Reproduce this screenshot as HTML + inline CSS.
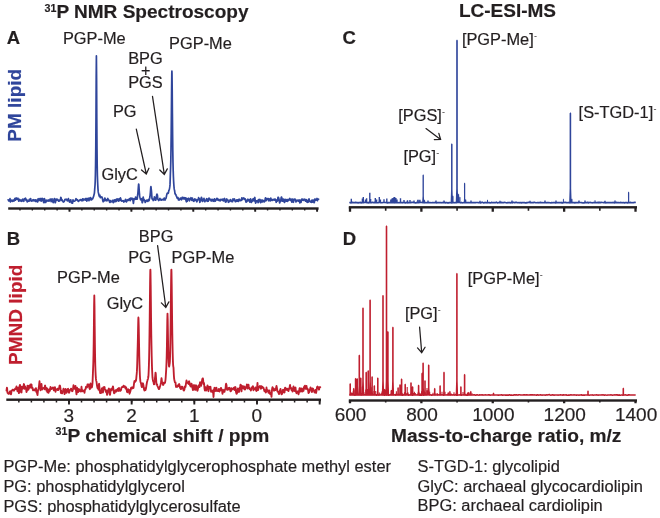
<!DOCTYPE html>
<html><head><meta charset="utf-8"><title>31P NMR and LC-ESI-MS</title>
<style>html,body{margin:0;padding:0;background:#fff}body{width:660px;height:518px;overflow:hidden}svg{display:block;will-change:transform}svg text{font-family:"Liberation Sans",sans-serif;stroke-width:.18px;stroke-linejoin:round}svg text{stroke:#231f20}svg text.b{stroke:#2f459b}svg text.r{stroke:#bf1e2e}</style></head><body>
<svg width="660" height="518" viewBox="0 0 660 518">
<rect width="660" height="518" fill="#fff"/>
<text x="44.5" y="18.2" font-size="19.05" font-weight="bold" fill="#231f20"><tspan font-size="10.7" dy="-6.6">31</tspan><tspan dy="6.6">P NMR Spectroscopy</tspan></text>
<text x="458.90" y="16.80" font-size="19" font-weight="bold" fill="#231f20" text-anchor="start">LC-ESI-MS</text>
<text x="6.70" y="43.90" font-size="18.5" font-weight="bold" fill="#231f20" text-anchor="start">A</text>
<text x="6.70" y="244.60" font-size="18.5" font-weight="bold" fill="#231f20" text-anchor="start">B</text>
<text x="342.60" y="43.90" font-size="18.5" font-weight="bold" fill="#231f20" text-anchor="start">C</text>
<text x="342.70" y="244.60" font-size="18.5" font-weight="bold" fill="#231f20" text-anchor="start">D</text>
<text transform="translate(21.4 141.7) rotate(-90)" class="b" font-size="19" font-weight="bold" fill="#2f459b">PM lipid</text>
<text transform="translate(21.6 364.9) rotate(-90)" class="r" font-size="19" font-weight="bold" fill="#bf1e2e">PMND lipid</text>
<path d="M8.20 199.78L8.40 200.05L8.60 200.62L8.80 200.88L9.00 200.65L9.20 200.57L9.40 200.80L9.60 200.75L9.80 199.56L10.00 198.65L10.20 200.31L10.40 201.98L10.60 201.32L10.80 200.67L11.00 200.84L11.20 201.11L11.40 200.82L11.60 200.39L11.80 200.17L12.00 200.03L12.20 200.27L12.40 200.76L12.60 201.10L12.80 201.29L13.00 201.17L13.20 200.60L13.40 200.21L13.60 200.22L13.80 200.30L14.00 200.67L14.20 200.91L14.40 200.02L14.60 199.13L14.80 198.78L15.00 198.42L15.20 199.26L15.40 200.23L15.60 199.97L15.80 199.40L16.00 198.72L16.20 197.99L16.40 198.04L16.60 198.61L16.80 199.00L17.00 199.22L17.20 199.19L17.40 198.77L17.60 198.43L17.80 198.31L18.00 198.40L18.20 199.32L18.40 200.19L18.60 200.71L18.80 201.23L19.00 200.60L19.20 199.96L19.40 199.64L19.60 199.34L19.80 199.79L20.00 200.43L20.20 200.77L20.40 200.97L20.60 200.75L20.80 200.24L21.00 200.22L21.20 200.67L21.40 201.04L21.60 201.30L21.80 201.27L22.00 200.54L22.20 199.88L22.40 199.53L22.60 199.27L22.80 199.89L23.00 200.51L23.20 200.60L23.40 200.69L23.60 200.98L23.80 201.29L24.00 200.34L24.20 199.07L24.40 198.81L24.60 198.99L24.80 198.99L25.00 198.86L25.20 198.61L25.40 198.21L25.60 198.39L25.80 199.43L26.00 200.24L26.20 200.51L26.40 200.63L26.60 200.09L26.80 199.71L27.00 200.81L27.20 201.91L27.40 201.72L27.60 201.54L27.80 201.38L28.00 201.21L28.20 201.10L28.40 201.00L28.60 201.07L28.80 201.22L29.00 200.60L29.20 199.46L29.40 199.37L29.60 200.34L29.80 200.90L30.00 200.87L30.20 200.48L30.40 199.27L30.60 198.51L30.80 199.52L31.00 200.42L31.20 200.31L31.40 200.19L31.60 200.66L31.80 201.13L32.00 200.65L32.20 200.05L32.40 200.08L32.60 200.27L32.80 200.43L33.00 200.59L33.20 200.31L33.40 199.72L33.60 199.76L33.80 200.45L34.00 200.75L34.20 200.47L34.40 200.34L34.60 200.53L34.80 200.60L35.00 200.15L35.20 199.83L35.40 200.62L35.60 201.42L35.80 201.18L36.00 200.94L36.20 200.51L36.40 200.05L36.60 200.31L36.80 200.74L37.00 201.18L37.20 201.61L37.40 201.84L37.60 201.92L37.80 201.09L38.00 199.34L38.20 198.74L38.40 199.86L38.60 200.61L38.80 200.48L39.00 200.29L39.20 199.85L39.40 199.41L39.60 198.98L39.80 198.55L40.00 199.59L40.20 200.62L40.40 199.72L40.60 198.61L40.80 199.15L41.00 200.12L41.20 200.68L41.40 201.07L41.60 200.33L41.80 198.84L42.00 198.35L42.20 198.85L42.40 199.02L42.60 198.69L42.80 198.74L43.00 199.69L43.20 200.64L43.40 201.56L43.60 202.41L43.80 202.56L44.00 202.71L44.20 200.68L44.40 198.65L44.60 198.94L44.80 199.49L45.00 200.34L45.20 201.27L45.40 201.94L45.60 202.49L45.80 202.32L46.00 201.67L46.20 201.03L46.40 200.38L46.60 200.21L46.80 200.75L47.00 201.10L47.20 201.02L47.40 200.86L47.60 200.66L47.80 200.46L48.00 200.19L48.20 199.93L48.40 200.50L48.60 201.08L48.80 201.12L49.00 201.10L49.20 200.87L49.40 200.60L49.60 200.37L49.80 200.16L50.00 199.72L50.20 199.13L50.40 199.07L50.60 199.55L50.80 200.20L51.00 201.11L51.20 201.50L51.40 200.70L51.60 199.93L51.80 199.28L52.00 198.84L52.20 200.26L52.40 201.69L52.60 201.51L52.80 201.33L53.00 201.93L53.20 202.60L53.40 201.83L53.60 200.70L53.80 199.98L54.00 199.43L54.20 198.95L54.40 198.54L54.60 199.15L54.80 200.77L55.00 202.01L55.20 202.69L55.40 202.61L55.60 200.76L55.80 199.27L56.00 199.21L56.20 199.23L56.40 199.86L56.60 200.49L56.80 199.80L57.00 199.11L57.20 199.23L57.40 199.45L57.60 199.52L57.80 199.56L58.00 199.83L58.20 200.20L58.40 200.64L58.60 201.13L58.80 201.13L59.00 200.64L59.20 200.49L59.40 200.83L59.60 200.88L59.80 200.23L60.00 199.74L60.20 199.90L60.40 199.91L60.60 198.59L60.80 197.28L61.00 197.66L61.20 198.04L61.40 199.22L61.60 200.49L61.80 200.32L62.00 199.79L62.20 200.04L62.40 200.64L62.60 200.96L62.80 201.10L63.00 201.38L63.20 201.82L63.40 201.99L63.60 201.79L63.80 201.66L64.00 201.68L64.20 201.57L64.40 200.91L64.60 200.28L64.80 199.88L65.00 199.47L65.20 199.45L65.40 199.43L65.60 199.53L65.80 199.64L66.00 199.43L66.20 199.14L66.40 199.30L66.60 199.64L66.80 199.99L67.00 200.34L67.20 200.62L67.40 200.83L67.60 200.79L67.80 200.38L68.00 199.86L68.20 199.05L68.40 198.58L68.60 199.54L68.80 200.44L69.00 200.79L69.20 201.15L69.40 201.62L69.60 202.08L69.80 201.83L70.00 201.50L70.20 200.82L70.40 200.06L70.60 199.87L70.80 199.92L71.00 200.82L71.20 202.29L71.40 202.79L71.60 202.33L71.80 202.27L72.00 202.80L72.20 203.19L72.40 203.21L72.60 202.91L72.80 201.30L73.00 199.90L73.20 200.38L73.40 200.85L73.60 200.97L73.80 201.09L74.00 201.15L74.20 201.20L74.40 201.18L74.60 201.13L74.80 200.97L75.00 200.76L75.20 200.57L75.40 200.40L75.60 199.88L75.80 199.01L76.00 198.72L76.20 199.33L76.40 199.70L76.60 199.52L76.80 199.46L77.00 199.87L77.20 200.22L77.40 200.02L77.60 199.81L77.80 200.41L78.00 201.00L78.20 201.20L78.40 201.35L78.60 201.16L78.80 200.87L79.00 200.75L79.20 200.70L79.40 200.57L79.60 200.40L79.80 200.16L80.00 199.85L80.20 199.70L80.40 199.79L80.60 199.83L80.80 199.71L81.00 199.71L81.20 200.17L81.40 200.56L81.60 200.45L81.80 200.33L82.00 200.49L82.20 200.64L82.40 199.84L82.60 198.92L82.80 199.55L83.00 200.56L83.20 200.30L83.40 199.50L83.60 199.13L83.80 199.05L84.00 199.15L84.20 199.42L84.40 199.53L84.60 199.41L84.80 199.44L85.00 199.83L85.20 200.04L85.40 199.55L85.60 199.08L85.80 198.73L86.00 198.38L86.20 198.61L86.40 198.84L86.60 199.89L86.80 201.04L87.00 200.73L87.20 200.04L87.40 199.32L87.60 198.59L87.80 198.57L88.00 199.02L88.20 198.95L88.40 198.34L88.60 198.59L88.80 200.14L89.00 200.75L89.20 199.19L89.40 198.10L89.60 198.98L89.80 199.76L90.00 199.74L90.20 199.72L90.40 198.64L90.60 197.55L90.80 198.19L91.00 199.03L91.20 199.51L91.40 199.90L91.60 199.74L91.80 199.35L92.00 199.03L92.20 198.76L92.40 198.69L92.60 198.80L92.80 198.60L93.00 197.92L93.20 197.31L93.40 196.92L93.60 196.40L93.80 195.60L94.00 194.71L94.20 194.06L94.40 193.14L94.60 190.80L94.80 187.90L95.00 185.50L95.20 181.86L95.40 174.79L95.60 163.49L95.80 145.54L96.00 116.54L96.20 77.86L96.40 55.90L96.60 79.65L96.80 119.56L97.00 148.56L97.20 165.66L97.40 175.75L97.60 181.65L97.80 185.53L98.00 189.09L98.20 191.68L98.40 192.74L98.60 193.41L98.80 194.48L99.00 195.35L99.20 195.95L99.40 196.42L99.60 195.87L99.80 195.02L100.00 195.79L100.20 197.23L100.40 197.62L100.60 197.32L100.80 197.26L101.00 197.46L101.20 197.45L101.40 197.14L101.60 196.94L101.80 197.00L102.00 197.16L102.20 197.70L102.40 198.30L102.60 199.49L102.80 200.68L103.00 201.24L103.20 201.79L103.40 201.13L103.60 200.34L103.80 200.56L104.00 201.02L104.20 200.62L104.40 199.83L104.60 199.00L104.80 198.13L105.00 198.26L105.20 199.38L105.40 200.16L105.60 200.45L105.80 200.53L106.00 200.12L106.20 199.88L106.40 200.28L106.60 200.65L106.80 200.78L107.00 200.91L107.20 200.07L107.40 199.24L107.60 198.85L107.80 198.50L108.00 198.99L108.20 199.69L108.40 199.97L108.60 200.08L108.80 200.14L109.00 200.17L109.20 200.61L109.40 201.44L109.60 202.09L109.80 202.48L110.00 202.42L110.20 201.33L110.40 200.53L110.60 201.02L110.80 201.48L111.00 201.66L111.20 201.84L111.40 201.73L111.60 201.62L111.80 201.66L112.00 201.71L112.20 201.13L112.40 200.38L112.60 200.59L112.80 201.21L113.00 201.89L113.20 202.60L113.40 202.59L113.60 201.85L113.80 201.07L114.00 200.23L114.20 199.83L114.40 200.46L114.60 201.04L114.80 201.42L115.00 201.70L115.20 201.15L115.40 200.59L115.60 200.11L115.80 199.64L116.00 200.43L116.20 201.35L116.40 200.45L116.60 199.09L116.80 199.21L117.00 199.96L117.20 200.09L117.40 199.86L117.60 199.49L117.80 198.97L118.00 199.17L118.20 200.44L118.40 201.21L118.60 200.80L118.80 200.31L119.00 199.53L119.20 198.91L119.40 199.77L119.60 200.63L119.80 200.09L120.00 199.54L120.20 198.75L120.40 197.94L120.60 198.33L120.80 199.02L121.00 199.71L121.20 200.40L121.40 200.84L121.60 201.12L121.80 201.14L122.00 200.92L122.20 200.76L122.40 200.71L122.60 200.74L122.80 200.96L123.00 201.08L123.20 200.84L123.40 200.70L123.60 201.40L123.80 202.11L124.00 201.65L124.20 201.19L124.40 201.14L124.60 201.14L124.80 201.14L125.00 201.15L125.20 200.52L125.40 199.61L125.60 199.38L125.80 199.60L126.00 200.31L126.20 201.51L126.40 201.99L126.60 201.38L126.80 200.84L127.00 200.41L127.20 200.11L127.40 200.34L127.60 200.50L127.80 200.09L128.00 199.69L128.20 199.97L128.40 200.25L128.60 199.87L128.80 199.42L129.00 199.58L129.20 199.89L129.40 199.40L129.60 198.58L129.80 199.08L130.00 200.46L130.20 200.67L130.40 199.70L130.60 198.85L130.80 198.16L131.00 197.88L131.20 198.55L131.40 199.11L131.60 199.16L131.80 199.22L132.00 199.42L132.20 199.61L132.40 199.01L132.60 198.40L132.80 199.26L133.00 200.28L133.20 201.77L133.40 203.38L133.60 202.12L133.80 199.63L134.00 198.94L134.20 199.45L134.40 199.58L134.60 199.33L134.80 199.21L135.00 199.27L135.20 198.97L135.40 197.85L135.60 196.99L135.80 197.26L136.00 197.58L136.20 198.39L136.40 199.17L136.60 198.92L136.80 198.60L137.00 198.91L137.20 199.17L137.40 197.66L137.60 195.43L137.80 193.85L138.00 191.92L138.20 189.37L138.40 186.59L138.60 184.20L138.80 184.40L139.00 187.31L139.20 190.63L139.40 193.06L139.60 195.18L139.80 196.68L140.00 197.54L140.20 198.21L140.40 199.05L140.60 199.80L140.80 199.61L141.00 199.37L141.20 199.03L141.40 198.65L141.60 199.18L141.80 199.93L142.00 201.16L142.20 202.59L142.40 202.65L142.60 201.79L142.80 200.26L143.00 198.04L143.20 197.20L143.40 198.41L143.60 199.22L143.80 199.12L144.00 199.20L144.20 199.97L144.40 200.65L144.60 200.47L144.80 200.28L145.00 201.38L145.20 202.48L145.40 202.20L145.60 201.76L145.80 201.54L146.00 201.38L146.20 201.02L146.40 200.58L146.60 200.29L146.80 200.12L147.00 200.15L147.20 200.39L147.40 200.73L147.60 201.21L147.80 201.39L148.00 200.90L148.20 200.40L148.40 199.86L148.60 199.43L148.80 200.10L149.00 200.72L149.20 199.97L149.40 199.14L149.60 198.41L149.80 197.52L150.00 196.23L150.20 194.45L150.40 192.32L150.60 189.62L150.80 187.09L150.90 186.60L151.00 186.90L151.20 188.75L151.40 190.52L151.60 192.77L151.80 196.12L152.00 198.39L152.20 198.93L152.40 199.22L152.60 199.12L152.80 199.03L153.00 199.81L153.20 200.54L153.40 200.36L153.60 200.15L153.80 199.90L154.00 199.62L154.20 198.37L154.40 196.86L154.60 197.17L154.80 198.23L155.00 198.97L155.20 199.48L155.40 199.91L155.60 200.21L155.80 200.12L156.00 199.44L156.20 198.26L156.40 196.56L156.60 195.30L156.80 194.33L157.00 194.14L157.20 194.76L157.40 195.05L157.60 197.13L157.80 199.02L158.00 199.41L158.20 199.56L158.40 200.04L158.60 200.57L158.80 200.40L159.00 199.93L159.20 199.76L159.40 199.77L159.60 199.36L159.80 198.53L160.00 198.40L160.20 199.32L160.40 199.86L160.60 199.52L160.80 199.33L161.00 199.70L161.20 200.04L161.40 200.09L161.60 200.13L161.80 199.80L162.00 199.46L162.20 199.55L162.40 199.69L162.60 199.59L162.80 199.44L163.00 199.63L163.20 199.97L163.40 199.96L163.60 199.72L163.80 199.25L164.00 198.53L164.20 198.09L164.40 198.06L164.60 198.36L164.80 199.45L165.00 200.11L165.20 199.14L165.40 198.27L165.60 198.52L165.80 198.74L166.00 198.12L166.20 197.45L166.40 196.48L166.60 195.39L166.80 194.59L167.00 193.79L167.20 193.36L167.40 193.17L167.60 193.00L167.80 192.99L168.00 193.15L168.20 193.29L168.40 192.88L168.60 191.65L168.80 190.60L169.00 190.24L169.20 189.68L169.40 188.97L169.60 187.94L169.80 186.71L170.00 184.89L170.20 179.57L170.40 173.14L170.60 168.01L170.80 160.92L171.00 149.35L171.20 133.16L171.40 112.74L171.60 90.37L171.80 73.73L171.90 71.10L172.00 73.34L172.20 89.99L172.40 113.32L172.60 134.54L172.80 151.13L173.00 163.03L173.20 170.81L173.40 176.42L173.60 180.89L173.80 184.24L174.00 186.75L174.20 188.68L174.40 189.74L174.60 190.49L174.80 192.05L175.00 193.54L175.20 194.08L175.40 194.32L175.60 194.48L175.80 194.58L176.00 195.06L176.20 195.78L176.40 196.27L176.60 196.54L176.80 196.98L177.00 197.67L177.20 198.06L177.40 197.79L177.60 197.55L177.80 197.48L178.00 197.53L178.20 198.70L178.40 199.87L178.60 199.85L178.80 199.82L179.00 199.95L179.20 200.09L179.40 199.83L179.60 199.47L179.80 199.05L180.00 198.61L180.20 198.32L180.40 198.15L180.60 198.17L180.80 198.36L181.00 198.76L181.20 199.46L181.40 199.80L181.60 199.33L181.80 198.79L182.00 197.95L182.20 197.25L182.40 197.90L182.60 198.55L182.80 198.00L183.00 197.46L183.20 198.07L183.40 198.81L183.60 198.43L183.80 197.78L184.00 197.57L184.20 197.56L184.40 198.04L184.60 198.84L184.80 199.18L185.00 199.07L185.20 198.72L185.40 197.98L185.60 197.88L185.80 199.28L186.00 200.55L186.20 201.29L186.40 201.79L186.60 200.04L186.80 198.29L187.00 199.77L187.20 201.25L187.40 200.33L187.60 199.14L187.80 198.87L188.00 198.83L188.20 198.90L188.40 199.01L188.60 198.76L188.80 198.25L189.00 198.72L189.20 200.16L189.40 200.89L189.60 200.54L189.80 200.07L190.00 199.34L190.20 198.77L190.40 198.87L190.60 198.90L190.80 198.31L191.00 197.72L191.20 198.40L191.40 199.08L191.60 199.73L191.80 200.36L192.00 199.42L192.20 198.08L192.40 198.09L192.60 198.69L192.80 199.22L193.00 199.72L193.20 200.26L193.40 200.85L193.60 201.25L193.80 201.36L194.00 201.13L194.20 200.09L194.40 199.22L194.60 199.01L194.80 198.88L195.00 199.49L195.20 200.09L195.40 199.71L195.60 199.33L195.80 199.36L196.00 199.43L196.20 200.12L196.40 200.97L196.60 201.46L196.80 201.81L197.00 201.46L197.20 200.65L197.40 200.09L197.60 199.77L197.80 199.67L198.00 199.90L198.20 199.69L198.40 198.46L198.60 197.64L198.80 198.46L199.00 199.18L199.20 198.96L199.40 198.74L199.60 200.53L199.80 202.33L200.00 201.82L200.20 201.06L200.40 200.53L200.60 200.05L200.80 199.62L201.00 199.21L201.20 198.37L201.40 197.26L201.60 197.60L201.80 199.38L202.00 200.69L202.20 201.30L202.40 201.38L202.60 200.21L202.80 199.41L203.00 200.07L203.20 200.67L203.40 200.66L203.60 200.64L203.80 199.53L204.00 198.42L204.20 199.50L204.40 200.82L204.60 201.37L204.80 201.73L205.00 201.41L205.20 200.79L205.40 200.44L205.60 200.27L205.80 200.35L206.00 200.67L206.20 200.41L206.40 199.26L206.60 198.72L206.80 199.59L207.00 200.38L207.20 200.91L207.40 201.28L207.60 200.20L207.80 199.13L208.00 200.17L208.20 201.21L208.40 200.61L208.60 199.83L208.80 198.93L209.00 198.00L209.20 198.38L209.40 199.33L209.60 199.54L209.80 199.27L210.00 199.41L210.20 199.98L210.40 200.07L210.60 199.45L210.80 199.33L211.00 200.36L211.20 201.03L211.40 200.23L211.60 199.55L211.80 199.97L212.00 200.39L212.20 199.93L212.40 199.47L212.60 199.60L212.80 199.78L213.00 200.47L213.20 201.28L213.40 201.17L213.60 200.66L213.80 200.16L214.00 199.66L214.20 199.23L214.40 198.85L214.60 199.14L214.80 200.43L215.00 201.29L215.20 201.13L215.40 200.87L215.60 200.26L215.80 199.72L216.00 199.86L216.20 200.01L216.40 199.30L216.60 198.59L216.80 198.45L217.00 198.36L217.20 198.49L217.40 198.67L217.60 199.20L217.80 199.87L218.00 200.12L218.20 200.08L218.40 199.81L218.60 199.29L218.80 199.29L219.00 200.06L219.20 200.62L219.40 200.70L219.60 200.70L219.80 200.40L220.00 200.16L220.20 200.50L220.40 200.85L220.60 200.14L220.80 199.44L221.00 199.40L221.20 199.43L221.40 199.68L221.60 199.97L221.80 199.92L222.00 199.72L222.20 199.80L222.40 200.15L222.60 199.88L222.80 199.00L223.00 198.99L223.20 200.28L223.40 200.89L223.60 199.91L223.80 199.15L224.00 199.31L224.20 199.41L224.40 198.95L224.60 198.49L224.80 199.64L225.00 200.79L225.20 201.42L225.40 201.99L225.60 202.07L225.80 202.04L226.00 201.84L226.20 201.57L226.40 200.68L226.60 199.39L226.80 198.92L227.00 199.27L227.20 199.58L227.40 199.84L227.60 200.01L227.80 199.96L228.00 200.15L228.20 201.28L228.40 202.27L228.60 201.91L228.80 201.56L229.00 201.46L229.20 201.36L229.40 201.46L229.60 201.60L229.80 200.97L230.00 200.14L230.20 199.81L230.40 199.69L230.60 199.70L230.80 199.78L231.00 200.19L231.20 200.94L231.40 201.39L231.60 201.37L231.80 201.40L232.00 201.53L232.20 201.64L232.40 201.74L232.60 201.68L232.80 200.33L233.00 198.98L233.20 199.28L233.40 199.58L233.60 199.90L233.80 200.22L234.00 199.65L234.20 198.86L234.40 198.93L234.60 199.36L234.80 200.09L235.00 201.01L235.20 201.53L235.40 201.65L235.60 201.68L235.80 201.56L236.00 201.28L236.20 200.62L236.40 200.10L236.60 199.97L236.80 199.91L237.00 200.53L237.20 201.14L237.40 200.44L237.60 199.75L237.80 200.01L238.00 200.38L238.20 200.85L238.40 201.35L238.60 200.85L238.80 199.92L239.00 199.41L239.20 199.19L239.40 199.26L239.60 199.63L239.80 200.00L240.00 200.38L240.20 200.64L240.40 200.58L240.60 200.51L240.80 200.34L241.00 200.18L241.20 200.23L241.40 200.28L241.60 199.11L241.80 197.95L242.00 198.14L242.20 198.48L242.40 198.99L242.60 199.55L242.80 199.31L243.00 198.72L243.20 198.29L243.40 198.01L243.60 197.92L243.80 198.02L244.00 198.18L244.20 198.44L244.40 198.75L244.60 199.16L244.80 199.43L245.00 199.12L245.20 198.91L245.40 199.71L245.60 200.51L245.80 201.34L246.00 202.17L246.20 201.51L246.40 200.68L246.60 201.03L246.80 201.68L247.00 201.49L247.20 200.95L247.40 200.26L247.60 199.47L247.80 199.26L248.00 199.63L248.20 199.78L248.40 199.57L248.60 199.69L248.80 200.53L249.00 201.06L249.20 200.28L249.40 199.71L249.60 200.98L249.80 202.24L250.00 201.83L250.20 201.42L250.40 200.16L250.60 198.81L250.80 199.73L251.00 201.21L251.20 201.99L251.40 202.47L251.60 201.96L251.80 200.79L252.00 200.53L252.20 201.18L252.40 201.04L252.60 199.71L252.80 199.03L253.00 199.88L253.20 200.39L253.40 199.59L253.60 198.96L253.80 199.89L254.00 200.83L254.20 199.61L254.40 198.39L254.60 197.88L254.80 197.45L255.00 198.82L255.20 200.64L255.40 201.96L255.60 203.06L255.80 202.65L256.00 201.22L256.20 200.79L256.40 201.35L256.60 201.55L256.80 201.21L257.00 200.90L257.20 200.66L257.40 200.56L257.60 201.12L257.80 201.67L258.00 202.09L258.20 202.52L258.40 201.04L258.60 199.55L258.80 200.11L259.00 200.90L259.20 200.94L259.40 200.79L259.60 200.15L259.80 199.31L260.00 199.95L260.20 201.57L260.40 202.47L260.60 202.65L260.80 202.16L261.00 200.68L261.20 200.00L261.40 201.19L261.60 201.98L261.80 201.17L262.00 200.41L262.20 200.26L262.40 200.11L262.60 200.93L262.80 201.76L263.00 201.27L263.20 200.64L263.40 200.53L263.60 200.55L263.80 201.01L264.00 201.67L264.20 201.87L264.40 201.79L264.60 201.54L264.80 201.13L265.00 200.33L265.20 198.97L265.40 197.99L265.60 197.91L265.80 198.13L266.00 199.53L266.20 200.69L266.40 199.77L266.60 198.86L266.80 199.24L267.00 199.62L267.20 199.14L267.40 198.58L267.60 198.74L267.80 199.08L268.00 198.93L268.20 198.57L268.40 199.27L268.60 200.67L268.80 200.75L269.00 199.49L269.20 198.86L269.40 199.18L269.60 199.44L269.80 199.56L270.00 199.78L270.20 200.39L270.40 200.80L270.60 199.48L270.80 198.17L271.00 198.76L271.20 199.35L271.40 199.47L271.60 199.52L271.80 199.87L272.00 200.28L272.20 200.38L272.40 200.34L272.60 200.03L272.80 199.54L273.00 199.44L273.20 199.74L273.40 199.83L273.60 199.59L273.80 199.55L274.00 199.95L274.20 200.22L274.40 199.91L274.60 199.61L274.80 199.30L275.00 198.99L275.20 199.35L275.40 199.70L275.60 200.11L275.80 200.53L276.00 201.35L276.20 202.29L276.40 201.59L276.60 200.20L276.80 199.86L277.00 200.21L277.20 200.62L277.40 201.09L277.60 200.61L277.80 198.68L278.00 197.32L278.20 197.30L278.40 197.39L278.60 197.84L278.80 198.33L279.00 199.20L279.20 200.07L279.40 201.49L279.60 202.92L279.80 202.24L280.00 201.33L280.20 201.34L280.40 201.58L280.60 201.02L280.80 200.12L281.00 198.94L281.20 197.58L281.40 197.00L281.60 197.18L281.80 198.06L282.00 199.96L282.20 201.19L282.40 200.86L282.60 200.46L282.80 199.74L283.00 199.21L283.20 200.33L283.40 201.45L283.60 200.31L283.80 199.17L284.00 200.31L284.20 201.71L284.40 202.18L284.60 202.42L284.80 201.61L285.00 200.36L285.20 199.74L285.40 199.51L285.60 199.86L285.80 200.81L286.00 201.03L286.20 200.18L286.40 199.83L286.60 200.65L286.80 201.13L287.00 200.21L287.20 199.48L287.40 200.42L287.60 201.36L287.80 201.04L288.00 200.72L288.20 200.32L288.40 199.91L288.60 199.64L288.80 199.40L289.00 199.64L289.20 200.09L289.40 199.65L289.60 198.60L289.80 198.45L290.00 199.21L290.20 199.70L290.40 199.81L290.60 200.02L290.80 200.48L291.00 200.68L291.20 199.84L291.40 199.22L291.60 200.63L291.80 202.04L292.00 201.01L292.20 199.98L292.40 199.48L292.60 199.03L292.80 200.07L293.00 201.48L293.20 202.05L293.40 202.25L293.60 201.67L293.80 200.56L294.00 199.77L294.20 199.29L294.40 199.17L294.60 199.59L294.80 199.78L295.00 199.46L295.20 199.26L295.40 199.56L295.60 199.93L295.80 200.95L296.00 201.96L296.20 201.40L296.40 200.84L296.60 200.59L296.80 200.37L297.00 200.38L297.20 200.44L297.40 200.35L297.60 200.19L297.80 200.42L298.00 200.90L298.20 201.14L298.40 201.13L298.60 200.85L298.80 200.16L299.00 199.78L299.20 200.13L299.40 200.66L299.60 201.89L299.80 202.90L300.00 201.88L300.20 200.86L300.40 200.54L300.60 200.22L300.80 201.18L301.00 202.29L301.20 201.64L301.40 200.55L301.60 199.77L301.80 199.12L302.00 199.37L302.20 200.21L302.40 200.25L302.60 199.51L302.80 199.14L303.00 199.33L303.20 199.60L303.40 200.08L303.60 200.42L303.80 200.18L304.00 199.93L304.20 199.55L304.40 199.18L304.60 199.26L304.80 199.34L305.00 199.46L305.20 199.59L305.40 200.32L305.60 201.21L305.80 200.81L306.00 199.87L306.20 199.58L306.40 199.73L306.60 200.48L306.80 201.83L307.00 202.18L307.20 201.03L307.40 200.53L307.60 201.52L307.80 202.30L308.00 202.26L308.20 202.13L308.40 201.19L308.60 200.25L308.80 199.56L309.00 198.88L309.20 199.73L309.40 200.74L309.60 201.19L309.80 201.48L310.00 201.67L310.20 201.80L310.40 201.62L310.60 201.22L310.80 201.33L311.00 201.94L311.20 202.32L311.40 202.35L311.60 202.01L311.80 200.80L312.00 200.08L312.20 201.26L312.40 202.26L312.60 201.68L312.80 201.09L313.00 200.61L313.20 200.12L313.40 200.26L313.60 200.48L313.80 201.48L314.00 202.67L314.20 202.61L314.40 202.03L314.60 200.86L314.80 199.30L315.00 198.94L315.20 199.77L315.40 200.26L315.60 200.24L315.80 200.19L316.00 200.10L316.20 199.97L316.40 199.67L316.60 199.36L316.80 198.93L317.00 198.50L317.20 199.61L317.40 200.72L317.60 200.06L317.80 199.20L318.00 199.15L318.20 199.30L318.40 199.25L318.60 199.12" fill="none" stroke="#2f459b" stroke-width="1.7" stroke-linejoin="round" stroke-linecap="round"/>
<rect x="8.20" y="207.30" width="310.40" height="2.4" fill="#231f20"/>
<path d="M317.10 208.50v2.10M304.72 208.50v2.10M292.34 208.50v2.10M279.96 208.50v2.10M267.58 208.50v2.10M255.20 208.50v2.10M242.82 208.50v2.10M230.44 208.50v2.10M218.06 208.50v2.10M205.68 208.50v2.10M193.30 208.50v2.10M180.92 208.50v2.10M168.54 208.50v2.10M156.16 208.50v2.10M143.78 208.50v2.10M131.40 208.50v2.10M119.02 208.50v2.10M106.64 208.50v2.10M94.26 208.50v2.10M81.88 208.50v2.10M69.50 208.50v2.10M57.12 208.50v2.10M44.74 208.50v2.10M32.36 208.50v2.10M19.98 208.50v2.10" stroke="#231f20" stroke-width="1.4" fill="none"/>
<path d="M69.50 208.50v3.30M131.40 208.50v3.30M193.30 208.50v3.30M255.20 208.50v3.30M317.10 208.50v3.30" stroke="#231f20" stroke-width="1.9" fill="none"/>
<text transform="translate(62.90 43.90) scale(1.05 1)" font-size="15.6" fill="#231f20" text-anchor="start">PGP-Me</text>
<text transform="translate(169.10 48.70) scale(1.05 1)" font-size="15.6" fill="#231f20" text-anchor="start">PGP-Me</text>
<text transform="translate(128.20 63.90) scale(1.05 1)" font-size="15.6" fill="#231f20" text-anchor="start">BPG</text>
<text x="145.80" y="76.30" font-size="16.2" fill="#231f20" text-anchor="middle">+</text>
<text transform="translate(128.20 88.20) scale(1.05 1)" font-size="15.6" fill="#231f20" text-anchor="start">PGS</text>
<text transform="translate(112.90 117.10) scale(1.05 1)" font-size="15.6" fill="#231f20" text-anchor="start">PG</text>
<text transform="translate(101.45 179.50) scale(1.05 1)" font-size="15.6" fill="#231f20" text-anchor="start">GlyC</text>
<path d="M136.30 129.20L146.30 174.00M141.50 169.92L146.30 174.00L148.90 168.26" fill="none" stroke="#231f20" stroke-width="1.25" stroke-linecap="round" stroke-linejoin="miter"/>
<path d="M152.50 96.40L164.30 174.40M159.80 169.99L164.30 174.40L167.30 168.86" fill="none" stroke="#231f20" stroke-width="1.25" stroke-linecap="round" stroke-linejoin="miter"/>
<path d="M6.50 390.68L6.70 389.20L6.90 387.71L7.10 388.14L7.30 390.48L7.50 392.82L7.70 392.98L7.90 393.13L8.10 393.33L8.30 393.55L8.50 393.78L8.70 393.82L8.90 393.86L9.10 393.64L9.30 393.18L9.50 392.71L9.70 392.04L9.90 391.38L10.10 391.23L10.30 391.60L10.50 391.96L10.70 393.20L10.90 394.43L11.10 394.22L11.30 392.58L11.50 390.94L11.70 390.86L11.90 390.78L12.10 390.50L12.30 390.04L12.50 389.57L12.70 389.61L12.90 389.65L13.10 389.75L13.30 389.90L13.50 390.06L13.70 390.39L13.90 390.73L14.10 390.64L14.30 390.12L14.50 389.60L14.70 389.36L14.90 389.12L15.10 388.87L15.30 388.61L15.50 388.35L15.70 388.66L15.90 388.97L16.10 388.58L16.30 387.49L16.50 386.39L16.70 387.45L16.90 388.51L17.10 389.48L17.30 390.37L17.50 391.25L17.70 389.67L17.90 388.09L18.10 387.63L18.30 388.29L18.50 388.95L18.70 391.01L18.90 393.07L19.10 392.59L19.30 389.57L19.50 386.55L19.70 385.71L19.90 384.87L20.10 385.02L20.30 386.17L20.50 387.31L20.70 389.32L20.90 391.33L21.10 392.36L21.30 392.41L21.50 392.46L21.70 389.89L21.90 387.32L22.10 386.57L22.30 387.64L22.50 388.72L22.70 388.33L22.90 387.94L23.10 387.38L23.30 386.64L23.50 385.91L23.70 384.97L23.90 384.04L24.10 384.65L24.30 386.78L24.50 388.92L24.70 387.78L24.90 386.65L25.10 386.47L25.30 387.25L25.50 388.03L25.70 388.18L25.90 388.33L26.10 389.13L26.30 390.56L26.50 392.00L26.70 391.38L26.90 390.76L27.10 389.48L27.30 387.55L27.50 385.62L27.70 386.29L27.90 386.96L28.10 387.78L28.30 388.74L28.50 389.71L28.70 387.96L28.90 386.21L29.10 385.66L29.30 386.29L29.50 386.92L29.70 387.37L29.90 387.82L30.10 387.33L30.30 385.90L30.50 384.47L30.70 384.57L30.90 384.67L31.10 384.66L31.30 384.53L31.50 384.41L31.70 386.01L31.90 387.62L32.10 388.28L32.30 387.99L32.50 387.70L32.70 388.85L32.90 389.99L33.10 390.35L33.30 389.93L33.50 389.51L33.70 389.80L33.90 390.10L34.10 390.06L34.30 389.71L34.50 389.35L34.70 389.96L34.90 390.57L35.10 390.54L35.30 389.87L35.50 389.20L35.70 388.66L35.90 388.11L36.10 388.73L36.30 390.51L36.50 392.29L36.70 392.54L36.90 392.79L37.10 393.36L37.30 394.23L37.50 395.10L37.70 393.22L37.90 391.33L38.10 390.06L38.30 389.40L38.50 388.75L38.70 387.66L38.90 386.57L39.10 385.06L39.30 383.15L39.50 381.23L39.70 383.27L39.90 385.31L40.10 387.12L40.30 388.71L40.50 390.30L40.70 389.09L40.90 387.89L41.10 386.63L41.30 385.32L41.50 384.02L41.70 386.37L41.90 388.71L42.10 389.53L42.30 388.83L42.50 388.12L42.70 388.13L42.90 388.13L43.10 388.11L43.30 388.05L43.50 387.99L43.70 388.25L43.90 388.50L44.10 388.76L44.30 389.02L44.50 389.27L44.70 387.57L44.90 385.88L45.10 385.50L45.30 386.46L45.50 387.42L45.70 387.57L45.90 387.73L46.10 388.40L46.30 389.60L46.50 390.79L46.70 389.47L46.90 388.14L47.10 388.47L47.30 390.46L47.50 392.44L47.70 392.02L47.90 391.60L48.10 391.67L48.30 392.23L48.50 392.80L48.70 391.15L48.90 389.51L49.10 389.21L49.30 390.25L49.50 391.30L49.70 390.95L49.90 390.59L50.10 389.70L50.30 388.27L50.50 386.84L50.70 387.73L50.90 388.62L51.10 389.05L51.30 389.02L51.50 389.00L51.70 388.62L51.90 388.25L52.10 388.11L52.30 388.21L52.50 388.31L52.70 387.83L52.90 387.35L53.10 387.51L53.30 388.32L53.50 389.12L53.70 389.74L53.90 390.37L54.10 390.20L54.30 389.22L54.50 388.25L54.70 387.70L54.90 387.16L55.10 387.86L55.30 389.80L55.50 391.74L55.70 390.82L55.90 389.91L56.10 389.51L56.30 389.63L56.50 389.76L56.70 389.51L56.90 389.26L57.10 389.04L57.30 388.84L57.50 388.64L57.70 389.41L57.90 390.19L58.10 390.17L58.30 389.36L58.50 388.55L58.70 388.71L58.90 388.87L59.10 388.33L59.30 387.08L59.50 385.84L59.70 385.68L59.90 385.52L60.10 386.09L60.30 387.40L60.50 388.70L60.70 390.63L60.90 392.55L61.10 393.01L61.30 392.00L61.50 390.99L61.70 392.16L61.90 393.33L62.10 393.39L62.30 392.35L62.50 391.31L62.70 391.07L62.90 390.84L63.10 390.32L63.30 389.53L63.50 388.74L63.70 389.32L63.90 389.91L64.10 390.98L64.30 392.53L64.50 394.09L64.70 393.60L64.90 393.12L65.10 392.10L65.30 390.54L65.50 388.99L65.70 389.15L65.90 389.31L66.10 390.07L66.30 391.45L66.50 392.83L66.70 391.54L66.90 390.25L67.10 389.98L67.30 390.74L67.50 391.50L67.70 390.20L67.90 388.90L68.10 388.82L68.30 389.96L68.50 391.09L68.70 391.88L68.90 392.66L69.10 392.74L69.30 392.12L69.50 391.51L69.70 390.86L69.90 390.21L70.10 389.76L70.30 389.52L70.50 389.28L70.70 389.02L70.90 388.76L71.10 388.67L71.30 388.76L71.50 388.85L71.70 389.81L71.90 390.76L72.10 391.22L72.30 391.18L72.50 391.14L72.70 390.26L72.90 389.39L73.10 388.21L73.30 386.73L73.50 385.25L73.70 385.86L73.90 386.47L74.10 387.18L74.30 387.99L74.50 388.81L74.70 388.61L74.90 388.41L75.10 387.85L75.30 386.92L75.50 385.99L75.70 387.82L75.90 389.65L76.10 391.33L76.30 392.84L76.50 394.36L76.70 391.53L76.90 388.71L77.10 387.76L77.30 388.68L77.50 389.60L77.70 390.91L77.90 392.21L78.10 392.12L78.30 390.63L78.50 389.14L78.70 389.07L78.90 388.99L79.10 389.25L79.30 389.85L79.50 390.45L79.70 390.81L79.90 391.17L80.10 391.07L80.30 390.49L80.50 389.92L80.70 390.69L80.90 391.45L81.10 390.82L81.30 388.79L81.50 386.76L81.70 388.59L81.90 390.41L82.10 391.30L82.30 391.27L82.50 391.23L82.70 390.80L82.90 390.37L83.10 390.34L83.30 390.69L83.50 391.05L83.70 390.94L83.90 390.83L84.10 391.19L84.30 392.03L84.50 392.86L84.70 391.49L84.90 390.12L85.10 389.43L85.30 389.41L85.50 389.38L85.70 388.25L85.90 387.11L86.10 386.57L86.30 386.63L86.50 386.66L86.70 387.12L86.90 387.53L87.10 387.09L87.30 385.79L87.50 384.45L87.70 384.40L87.90 384.48L88.00 384.60L88.10 384.45L88.30 384.32L88.50 384.31L88.70 385.27L88.90 386.17L89.10 386.99L89.30 387.73L89.50 388.41L89.70 388.80L89.90 389.16L90.10 388.16L90.30 385.81L90.50 383.42L90.70 384.44L90.90 385.41L91.10 386.25L91.30 386.95L91.50 387.57L91.70 387.48L91.90 387.24L92.10 386.43L92.30 384.96L92.50 383.11L92.70 378.66L92.90 373.42L93.10 368.43L93.30 363.05L93.50 354.76L93.70 342.59L93.90 325.08L94.10 305.20L94.30 295.40L94.50 305.81L94.70 325.89L94.90 343.94L95.10 356.87L95.30 365.67L95.50 371.58L95.70 375.59L95.90 378.41L96.10 380.13L96.30 381.00L96.50 381.51L96.70 383.25L96.90 384.80L97.10 386.10L97.30 387.18L97.50 388.17L97.70 387.83L97.90 387.43L98.10 387.73L98.30 388.73L98.50 389.71L98.70 386.96L98.90 384.18L99.10 383.84L99.30 385.93L99.50 388.01L99.70 390.05L99.90 392.08L100.10 392.95L100.30 392.65L100.50 392.34L100.70 392.71L100.90 393.08L101.10 392.73L101.30 391.65L101.50 390.57L101.70 389.45L101.90 388.33L102.10 388.12L102.30 388.82L102.50 389.53L102.70 391.02L102.90 392.51L103.10 392.02L103.30 389.54L103.50 387.06L103.70 387.43L103.90 387.79L104.10 387.78L104.30 387.41L104.50 387.03L104.70 388.01L104.90 388.99L105.10 389.66L105.30 390.04L105.50 390.41L105.70 391.16L105.90 391.92L106.10 391.91L106.30 391.14L106.50 390.37L106.70 392.30L106.90 394.23L107.10 394.84L107.30 394.13L107.50 393.42L107.70 392.35L107.90 391.27L108.10 390.45L108.30 389.88L108.50 389.31L108.70 388.93L108.90 388.54L109.10 389.07L109.30 390.51L109.50 391.96L109.70 393.40L109.90 394.85L110.10 394.68L110.30 392.90L110.50 391.11L110.70 390.18L110.90 389.25L111.10 389.09L111.30 389.70L111.50 390.30L111.70 389.90L111.90 389.50L112.10 389.03L112.30 388.47L112.50 387.91L112.70 387.15L112.90 386.39L113.10 386.78L113.30 388.32L113.50 389.86L113.70 391.26L113.90 392.65L114.10 393.28L114.30 393.12L114.50 392.96L114.70 392.57L114.90 392.18L115.10 391.62L115.30 390.89L115.50 390.16L115.70 390.33L115.90 390.50L116.10 390.76L116.30 391.10L116.50 391.45L116.70 390.61L116.90 389.77L117.10 389.39L117.30 389.46L117.50 389.53L117.70 389.13L117.90 388.72L118.10 389.00L118.30 389.98L118.50 390.96L118.70 389.52L118.90 388.08L119.10 387.93L119.30 389.06L119.50 390.19L119.70 390.48L119.90 390.76L120.10 390.88L120.30 390.84L120.50 390.80L120.70 390.54L120.90 390.28L121.10 389.62L121.30 388.57L121.50 387.52L121.70 387.30L121.90 387.07L122.10 387.00L122.30 387.09L122.50 387.18L122.70 387.16L122.90 387.13L123.10 386.83L123.30 386.28L123.50 385.72L123.70 386.20L123.90 386.68L124.10 386.86L124.30 386.74L124.50 386.61L124.70 386.47L124.90 386.33L125.10 386.73L125.30 387.69L125.50 388.65L125.70 387.95L125.90 387.24L126.10 387.32L126.30 388.18L126.50 389.04L126.70 390.20L126.90 391.36L127.10 392.00L127.30 392.13L127.50 392.26L127.70 390.97L127.90 389.68L128.10 389.32L128.30 389.90L128.50 390.48L128.70 390.15L128.90 389.82L129.10 390.47L129.30 392.10L129.50 393.74L129.70 393.26L129.90 392.77L130.10 392.19L130.30 391.50L130.50 390.80L130.70 389.62L130.90 388.44L131.10 387.76L131.30 387.59L131.50 387.41L131.70 387.96L131.90 388.50L132.10 388.53L132.30 388.02L132.50 387.51L132.70 387.28L132.90 387.04L133.10 387.14L133.30 387.58L133.50 388.01L133.70 386.23L133.90 384.42L134.10 383.03L134.30 382.05L134.50 381.04L134.70 381.47L134.90 381.84L135.10 381.84L135.30 381.43L135.50 380.92L135.70 381.00L135.90 380.93L136.10 379.99L136.30 378.14L136.50 375.91L136.70 373.99L136.90 371.39L137.10 367.12L137.30 360.84L137.50 352.81L137.70 346.38L137.90 337.94L138.10 327.47L138.30 318.95L138.40 317.50L138.50 318.29L138.70 325.11L138.90 335.54L139.10 346.63L139.30 356.72L139.50 364.64L139.70 370.71L139.90 375.45L140.10 378.65L140.30 380.56L140.50 381.97L140.70 382.58L140.90 382.92L141.10 383.69L141.30 384.94L141.50 386.07L141.70 386.64L141.90 387.14L142.10 386.64L142.30 385.15L142.50 383.62L142.70 383.49L142.90 383.33L143.10 383.74L143.30 384.71L143.50 385.66L143.70 387.19L143.90 388.71L144.10 389.68L144.30 390.11L144.50 390.51L144.70 389.51L144.90 388.48L145.10 388.39L145.30 389.22L145.50 390.03L145.70 389.43L145.90 388.79L146.10 387.79L146.30 386.42L146.50 384.98L146.70 383.83L146.90 382.60L147.10 381.64L147.30 380.93L147.50 380.06L147.70 379.65L147.90 378.97L148.10 378.13L148.30 377.02L148.50 375.30L148.70 371.02L148.90 365.60L149.10 357.93L149.30 347.41L149.50 333.95L149.70 318.83L149.90 300.33L150.10 282.05L150.30 270.62L150.40 269.60L150.50 272.32L150.70 284.93L150.90 303.58L151.10 321.41L151.30 335.66L151.50 346.30L151.70 356.20L151.90 363.90L152.10 369.69L152.30 374.00L152.50 377.47L152.70 379.13L152.90 380.31L153.10 381.11L153.30 381.60L153.50 381.85L153.70 383.20L153.90 384.36L154.10 384.25L154.30 382.86L154.50 381.23L154.70 380.25L154.90 378.87L155.10 377.16L155.30 375.05L155.50 372.62L155.70 373.23L155.80 374.20L155.90 375.73L156.10 379.06L156.30 381.98L156.50 384.60L156.70 384.63L156.90 384.16L157.10 384.35L157.30 385.30L157.50 386.07L157.70 386.49L157.90 386.82L158.10 387.28L158.30 387.91L158.50 388.49L158.70 388.83L158.90 389.14L159.10 389.08L159.30 388.63L159.50 388.17L159.70 387.41L159.90 386.63L160.10 385.94L160.30 385.35L160.50 384.70L160.70 383.84L160.90 382.89L161.10 381.57L161.30 379.85L161.50 378.06L161.70 379.45L161.80 380.30L161.90 381.28L162.10 382.48L162.30 382.75L162.50 382.93L162.70 383.87L162.90 384.68L163.10 385.00L163.30 384.86L163.50 384.65L163.70 383.76L163.90 382.81L164.10 382.39L164.30 382.50L164.50 382.54L164.70 382.80L164.90 382.95L165.10 382.44L165.30 381.22L165.50 379.75L165.70 377.25L165.90 374.26L166.10 371.10L166.30 367.44L166.50 362.29L166.70 355.93L166.90 346.63L167.10 333.75L167.30 320.15L167.50 313.60L167.70 319.00L167.90 331.42L168.10 343.55L168.30 352.49L168.50 358.38L168.70 362.85L168.90 365.60L169.10 366.59L169.30 366.04L169.50 364.43L169.70 363.54L169.90 361.29L170.10 355.32L170.30 345.07L170.50 331.85L170.70 317.09L170.90 298.98L171.10 281.27L171.30 270.44L171.40 269.60L171.50 272.40L171.70 284.13L171.90 301.73L172.10 319.05L172.30 333.38L172.50 344.19L172.70 353.43L172.90 360.52L173.10 364.76L173.30 366.59L173.50 367.59L173.70 371.91L173.90 375.78L174.10 378.28L174.30 379.48L174.50 380.49L174.70 381.42L174.90 382.22L175.10 382.56L175.30 382.46L175.50 382.29L175.70 384.30L175.90 386.26L176.10 387.05L176.30 386.69L176.50 386.30L176.70 386.20L176.90 386.07L177.10 386.18L177.30 386.52L177.50 386.85L177.70 386.11L177.90 385.35L178.10 385.20L178.30 385.64L178.50 386.08L178.70 385.15L178.90 384.20L179.10 383.94L179.30 384.37L179.50 384.79L179.70 386.08L179.90 387.36L180.10 388.06L180.30 388.19L180.50 388.31L180.70 388.73L180.90 389.14L181.10 388.83L181.30 387.81L181.50 386.78L181.70 387.07L181.90 387.36L182.10 387.35L182.30 387.03L182.50 386.72L182.70 387.52L182.90 388.32L183.10 389.00L183.30 389.56L183.50 390.11L183.70 390.33L183.90 390.53L184.10 390.33L184.30 389.73L184.50 389.11L184.70 387.90L184.90 386.67L185.10 386.25L185.30 386.64L185.50 386.99L185.70 385.59L185.90 384.13L186.10 382.81L186.30 381.63L186.50 380.40L186.70 381.44L186.90 382.45L187.10 382.74L187.30 382.37L187.50 382.11L187.70 382.38L187.80 382.60L187.90 382.87L188.10 383.27L188.30 383.53L188.50 383.91L188.70 382.74L188.90 381.57L189.10 381.29L189.30 381.89L189.50 382.44L189.70 383.58L189.90 384.67L190.10 385.41L190.30 385.80L190.50 386.15L190.70 386.39L190.90 386.60L191.10 386.08L191.30 384.83L191.50 383.57L191.70 384.40L191.90 385.22L192.10 386.13L192.30 387.12L192.50 388.11L192.70 389.06L192.90 390.01L193.10 389.42L193.30 387.30L193.50 385.18L193.70 387.18L193.90 389.18L194.10 389.51L194.30 388.17L194.50 386.82L194.70 386.02L194.90 385.22L195.10 385.84L195.30 387.89L195.50 389.94L195.70 388.26L195.90 386.58L196.10 385.70L196.30 385.63L196.50 385.54L196.70 387.22L196.90 388.88L197.10 389.92L197.30 390.32L197.50 390.72L197.70 389.88L197.90 389.02L198.10 388.17L198.30 387.31L198.50 386.44L198.70 385.84L198.90 385.23L199.10 385.38L199.30 386.29L199.50 387.16L199.70 385.11L199.90 383.01L200.10 382.12L200.30 382.44L200.50 382.66L200.70 384.19L200.90 385.57L201.10 385.68L201.30 384.51L201.50 383.19L201.70 382.21L201.90 381.34L202.10 380.22L202.30 379.10L202.50 378.66L202.70 378.36L202.90 378.41L203.10 379.64L203.30 381.90L203.50 384.00L203.70 383.48L203.90 382.80L204.10 383.69L204.30 386.19L204.50 388.59L204.70 389.55L204.90 390.45L205.10 390.14L205.30 388.65L205.50 387.13L205.70 388.66L205.90 390.16L206.10 390.64L206.30 390.11L206.50 389.56L206.70 389.19L206.90 388.80L207.10 387.96L207.30 386.66L207.50 385.36L207.70 386.87L207.90 388.37L208.10 389.54L208.30 390.37L208.50 391.19L208.70 389.28L208.90 387.37L209.10 386.80L209.30 387.58L209.50 388.36L209.70 388.23L209.90 388.10L210.10 387.79L210.30 387.29L210.50 386.79L210.70 388.87L210.90 390.94L211.10 391.70L211.30 391.14L211.50 390.58L211.70 390.61L211.90 390.63L212.10 390.96L212.30 391.60L212.50 392.23L212.70 391.30L212.90 390.37L213.10 391.32L213.30 394.15L213.50 396.98L213.70 394.15L213.90 391.31L214.10 389.47L214.30 388.63L214.50 387.78L214.70 389.16L214.90 390.53L215.10 391.12L215.30 390.91L215.50 390.70L215.70 389.50L215.90 388.30L216.10 387.73L216.30 387.77L216.50 387.82L216.70 389.19L216.90 390.57L217.10 391.10L217.30 390.80L217.50 390.49L217.70 390.54L217.90 390.59L218.10 390.71L218.30 390.91L218.50 391.11L218.70 390.06L218.90 389.01L219.10 389.11L219.30 390.36L219.50 391.61L219.70 390.79L219.90 389.97L220.10 389.68L220.30 389.92L220.50 390.15L220.70 388.99L220.90 387.83L221.10 387.83L221.30 389.00L221.50 390.16L221.70 390.15L221.90 390.13L222.10 390.88L222.30 392.38L222.50 393.89L222.70 392.05L222.90 390.21L223.10 389.81L223.30 390.83L223.50 391.86L223.70 391.35L223.90 390.85L224.10 390.86L224.30 391.39L224.50 391.92L224.70 390.89L224.90 389.87L225.10 389.23L225.30 388.99L225.50 388.74L225.70 386.56L225.90 384.38L226.10 383.65L226.30 384.38L226.50 385.11L226.70 387.08L226.90 389.05L227.10 389.90L227.30 389.63L227.50 389.36L227.70 389.52L227.90 389.67L228.10 389.41L228.30 388.72L228.50 388.03L228.70 388.72L228.90 389.42L229.10 389.37L229.30 388.58L229.50 387.80L229.70 388.10L229.90 388.41L230.10 389.13L230.30 390.26L230.50 391.39L230.70 391.28L230.90 391.18L231.10 390.52L231.30 389.32L231.50 388.11L231.70 388.42L231.90 388.73L232.10 388.99L232.30 389.19L232.50 389.40L232.70 389.14L232.90 388.88L233.10 388.73L233.30 388.67L233.50 388.61L233.70 388.10L233.90 387.59L234.10 387.86L234.30 388.92L234.50 389.97L234.70 388.75L234.90 387.54L235.10 386.99L235.30 387.10L235.50 387.21L235.70 389.15L235.90 391.08L236.10 392.39L236.30 393.08L236.50 393.76L236.70 393.66L236.90 393.56L237.10 392.82L237.30 391.44L237.50 390.07L237.70 389.28L237.90 388.48L238.10 388.61L238.30 389.66L238.50 390.71L238.70 391.35L238.90 392.00L239.10 391.72L239.30 390.52L239.50 389.32L239.70 388.57L239.90 387.83L240.10 386.88L240.30 385.73L240.50 384.59L240.70 384.78L240.90 384.96L241.10 386.32L241.30 388.83L241.50 391.34L241.70 389.08L241.90 386.81L242.10 385.86L242.30 386.21L242.50 386.57L242.70 387.00L242.90 387.43L243.10 387.81L243.30 388.12L243.50 388.43L243.70 387.37L243.90 386.30L244.10 386.46L244.30 387.85L244.50 389.24L244.70 389.37L244.90 389.50L245.10 389.30L245.30 388.78L245.50 388.26L245.70 387.63L245.90 387.00L246.10 386.66L246.30 386.61L246.50 386.56L246.70 385.52L246.90 384.48L247.10 384.88L247.30 386.73L247.50 388.58L247.70 387.77L247.90 386.96L248.10 386.19L248.30 385.48L248.50 384.76L248.70 385.88L248.90 387.00L249.10 387.86L249.30 388.46L249.50 389.06L249.70 389.06L249.90 389.05L250.10 389.20L250.30 389.49L250.50 389.79L250.70 390.12L250.90 390.46L251.10 389.99L251.30 388.72L251.50 387.45L251.70 387.91L251.90 388.37L252.10 388.59L252.30 388.57L252.50 388.54L252.70 387.40L252.90 386.26L253.10 386.61L253.30 388.46L253.50 390.30L253.70 389.46L253.90 388.62L254.10 388.38L254.30 388.75L254.50 389.12L254.70 389.13L254.90 389.15L255.10 388.79L255.30 388.05L255.50 387.32L255.70 388.58L255.90 389.84L256.10 390.57L256.30 390.77L256.50 390.96L256.70 389.96L256.90 388.96L257.10 387.34L257.30 385.10L257.50 382.86L257.70 385.95L257.90 389.04L258.10 390.13L258.30 389.24L258.50 388.34L258.70 387.75L258.90 387.16L259.10 386.83L259.30 386.76L259.50 386.69L259.70 386.33L259.90 385.97L260.10 386.11L260.30 386.75L260.50 387.38L260.70 388.09L260.90 388.80L261.10 388.54L261.30 387.31L261.50 386.08L261.70 386.90L261.90 387.73L262.10 387.88L262.30 387.36L262.50 386.83L262.70 387.12L262.90 387.40L263.10 387.59L263.30 387.70L263.50 387.81L263.70 388.54L263.90 389.27L264.10 389.96L264.30 390.61L264.50 391.26L264.70 390.66L264.90 390.07L265.10 390.18L265.30 390.99L265.50 391.81L265.70 392.19L265.90 392.56L266.10 391.71L266.30 389.63L266.50 387.54L266.70 389.10L266.90 390.65L267.10 391.15L267.30 390.57L267.50 390.00L267.70 390.20L267.90 390.40L268.10 390.98L268.30 391.94L268.50 392.90L268.70 392.06L268.90 391.21L269.10 390.71L269.30 390.54L269.50 390.38L269.70 391.88L269.90 393.38L270.10 394.09L270.30 394.02L270.50 393.94L270.70 393.60L270.90 393.27L271.10 393.87L271.30 395.40L271.50 396.94L271.70 393.88L271.90 390.82L272.10 388.87L272.30 388.05L272.50 387.22L272.70 388.22L272.90 389.21L273.10 389.46L273.30 388.96L273.50 388.45L273.70 389.50L273.90 390.54L274.10 390.71L274.30 390.03L274.50 389.34L274.70 389.27L274.90 389.19L275.10 389.34L275.30 389.73L275.50 390.12L275.70 389.32L275.90 388.52L276.10 387.67L276.30 386.76L276.50 385.85L276.70 386.90L276.90 387.95L277.10 389.11L277.30 390.40L277.50 391.69L277.70 391.52L277.90 391.36L278.10 391.59L278.30 392.21L278.50 392.83L278.70 393.46L278.90 394.08L279.10 394.05L279.30 393.35L279.50 392.66L279.70 391.71L279.90 390.77L280.10 390.02L280.30 389.47L280.50 388.92L280.70 389.99L280.90 391.07L281.10 392.15L281.30 393.22L281.50 394.30L281.70 394.22L281.90 394.14L282.10 393.79L282.30 393.18L282.50 392.57L282.70 391.21L282.90 389.84L283.10 389.65L283.30 390.66L283.50 391.66L283.70 391.91L283.90 392.16L284.10 392.35L284.30 392.48L284.50 392.61L284.70 390.57L284.90 388.52L285.10 387.62L285.30 387.87L285.50 388.12L285.70 388.83L285.90 389.54L286.10 389.86L286.30 389.80L286.50 389.75L286.70 389.19L286.90 388.63L287.10 388.70L287.30 389.42L287.50 390.14L287.70 389.68L287.90 389.22L288.10 389.42L288.30 390.30L288.50 391.17L288.70 389.99L288.90 388.81L289.10 388.27L289.30 388.38L289.50 388.49L289.70 386.82L289.90 385.14L290.10 385.07L290.30 386.62L290.50 388.17L290.70 387.90L290.90 387.63L291.10 388.01L291.30 389.06L291.50 390.10L291.70 389.72L291.90 389.34L292.10 389.64L292.30 390.62L292.50 391.59L292.70 390.23L292.90 388.86L293.10 387.83L293.30 387.13L293.50 386.43L293.70 387.86L293.90 389.28L294.10 390.19L294.30 390.59L294.50 390.98L294.70 389.91L294.90 388.84L295.10 388.15L295.30 387.83L295.50 387.51L295.70 389.29L295.90 391.07L296.10 392.21L296.30 392.71L296.50 393.21L296.70 392.98L296.90 392.74L297.10 392.36L297.30 391.85L297.50 391.34L297.70 391.32L297.90 391.30L298.10 391.90L298.30 393.13L298.50 394.36L298.70 393.60L298.90 392.85L299.10 391.67L299.30 390.07L299.50 388.47L299.70 388.28L299.90 388.09L300.10 388.68L300.30 390.06L300.50 391.44L300.70 391.52L300.90 391.60L301.10 391.04L301.30 389.85L301.50 388.67L301.70 388.53L301.90 388.40L302.10 388.96L302.30 390.22L302.50 391.47L302.70 390.64L302.90 389.82L303.10 389.69L303.30 390.28L303.50 390.86L303.70 389.30L303.90 387.75L304.10 386.86L304.30 386.63L304.50 386.40L304.70 386.01L304.90 385.63L305.10 386.10L305.30 387.44L305.50 388.77L305.70 388.54L305.90 388.30L306.10 387.74L306.30 386.85L306.50 385.97L306.70 387.34L306.90 388.72L307.10 389.25L307.30 388.93L307.50 388.61L307.70 389.00L307.90 389.40L308.10 390.29L308.30 391.68L308.50 393.06L308.70 392.86L308.90 392.65L309.10 392.30L309.30 391.80L309.50 391.30L309.70 390.50L309.90 389.70L310.10 388.94L310.30 388.22L310.50 387.50L310.70 387.92L310.90 388.35L311.10 388.81L311.30 389.31L311.50 389.81L311.70 390.93L311.90 392.05L312.10 391.77L312.30 390.09L312.50 388.41L312.70 388.50L312.90 388.60L313.10 388.88L313.30 389.36L313.50 389.84L313.70 390.26L313.90 390.67L314.10 391.18L314.30 391.77L314.50 392.37L314.70 392.44L314.90 392.51L315.10 392.02L315.30 390.97L315.50 389.91L315.70 391.32L315.90 392.73L316.10 392.91L316.30 391.87L316.50 390.82L316.70 389.39L316.90 387.95L317.10 387.08L317.30 386.77L317.50 386.46L317.70 386.87L317.90 387.29L318.10 387.62L318.30 387.88L318.50 388.13L318.70 388.91L318.90 389.68L319.10 389.48L319.30 388.31L319.50 387.14L319.70 387.19L319.90 387.25L320.10 387.25L320.30 387.21" fill="none" stroke="#bf1e2e" stroke-width="1.85" stroke-linejoin="round" stroke-linecap="round"/>
<rect x="6.30" y="398.50" width="314.70" height="2.4" fill="#231f20"/>
<path d="M319.67 399.70v2.90M307.14 399.70v2.90M294.60 399.70v2.90M282.07 399.70v2.90M269.53 399.70v2.90M257.00 399.70v2.90M244.47 399.70v2.90M231.93 399.70v2.90M219.40 399.70v2.90M206.86 399.70v2.90M194.33 399.70v2.90M181.80 399.70v2.90M169.26 399.70v2.90M156.73 399.70v2.90M144.19 399.70v2.90M131.66 399.70v2.90M119.13 399.70v2.90M106.59 399.70v2.90M94.06 399.70v2.90M81.52 399.70v2.90M68.99 399.70v2.90M56.46 399.70v2.90M43.92 399.70v2.90M31.39 399.70v2.90M18.85 399.70v2.90" stroke="#231f20" stroke-width="1.5" fill="none"/>
<path d="M68.99 399.70v4.80M131.66 399.70v4.80M194.33 399.70v4.80M257.00 399.70v4.80M319.67 399.70v4.80" stroke="#231f20" stroke-width="1.9" fill="none"/>
<text x="68.89" y="422.10" font-size="19" fill="#231f20" text-anchor="middle">3</text>
<text x="131.56" y="422.10" font-size="19" fill="#231f20" text-anchor="middle">2</text>
<text x="194.23" y="422.10" font-size="19" fill="#231f20" text-anchor="middle">1</text>
<text x="256.90" y="422.10" font-size="19" fill="#231f20" text-anchor="middle">0</text>
<text x="55.6" y="441.9" font-size="19.15" font-weight="bold" fill="#231f20"><tspan font-size="10.7" dy="-6.6">31</tspan><tspan dy="6.6">P chemical shift / ppm</tspan></text>
<text transform="translate(138.80 241.80) scale(1.05 1)" font-size="15.6" fill="#231f20" text-anchor="start">BPG</text>
<text transform="translate(128.20 263.00) scale(1.05 1)" font-size="15.6" fill="#231f20" text-anchor="start">PG</text>
<text transform="translate(171.50 262.70) scale(1.05 1)" font-size="15.6" fill="#231f20" text-anchor="start">PGP-Me</text>
<text transform="translate(57.00 282.70) scale(1.05 1)" font-size="15.6" fill="#231f20" text-anchor="start">PGP-Me</text>
<text transform="translate(106.75 309.30) scale(1.05 1)" font-size="15.6" fill="#231f20" text-anchor="start">GlyC</text>
<path d="M157.60 245.60L165.80 307.40M161.38 302.91L165.80 307.40L168.90 301.91" fill="none" stroke="#231f20" stroke-width="1.25" stroke-linecap="round" stroke-linejoin="miter"/>
<path d="M349.3 202.50L350.1 202.57L350.9 202.85L351.7 202.70L352.5 202.35L353.3 202.60L354.1 202.51L354.9 202.62L355.7 202.36L356.5 202.64L357.3 202.64L358.1 202.84L358.9 202.65L359.7 202.68L360.5 202.38L361.3 202.94L362.1 202.31L362.9 202.77L363.7 202.55L364.5 202.47L365.3 202.50L366.1 202.50L366.9 202.66L367.7 202.58L368.5 202.82L369.3 202.33L370.1 202.60L370.9 202.47L371.7 202.72L372.5 202.28L373.3 202.55L374.1 202.63L374.9 202.38L375.7 202.75L376.5 202.63L377.3 202.75L378.1 202.74L378.9 202.45L379.7 202.48L380.5 202.57L381.3 202.71L382.1 202.73L382.9 202.49L383.7 202.51L384.5 202.48L385.3 202.51L386.1 202.56L386.9 202.58L387.7 202.91L388.5 202.52L389.3 202.56L390.1 202.67L390.9 202.46L391.7 202.54L392.5 202.60L393.3 202.72L394.1 202.40L394.9 202.81L395.7 202.55L396.5 202.63L397.3 202.73L398.1 202.70L398.9 202.76L399.7 202.63L400.5 202.60L401.3 202.65L402.1 202.45L402.9 202.78L403.7 202.48L404.5 202.41L405.3 202.91L406.1 202.58L406.9 202.42L407.7 202.88L408.5 202.55L409.3 202.76L410.1 202.48L410.9 202.56L411.7 202.35L412.5 202.31L413.3 202.45L414.1 202.59L414.9 202.72L415.7 202.96L416.5 202.45L417.3 202.75L418.1 202.51L418.9 202.58L419.7 202.38L420.5 202.38L421.3 202.48L422.1 202.42L422.9 202.60L423.7 202.49L424.5 202.79L425.3 202.62L426.1 202.62L426.9 202.77L427.7 202.68L428.5 202.59L429.3 202.59L430.1 202.58L430.9 202.76L431.7 202.72L432.5 202.65L433.3 202.72L434.1 202.52L434.9 202.68L435.7 202.39L436.5 202.80L437.3 202.61L438.1 202.63L438.9 202.69L439.7 202.60L440.5 202.56L441.3 202.78L442.1 202.62L442.9 202.46L443.7 202.67L444.5 202.34L445.3 202.85L446.1 202.57L446.9 202.61L447.7 202.94L448.5 202.92L449.3 202.62L450.1 202.69L450.9 202.76L451.7 202.85L452.5 202.58L453.3 202.62L454.1 202.78L454.9 202.64L455.7 202.71L456.5 202.69L457.3 202.43L458.1 202.47L458.9 202.20L459.7 202.56L460.5 202.80L461.3 202.43L462.1 202.79L462.9 202.75L463.7 202.59L464.5 202.60L465.3 202.61L466.1 202.47L466.9 202.56L467.7 202.59L468.5 202.69L469.3 202.72L470.1 202.49L470.9 202.72L471.7 202.48L472.5 202.57L473.3 202.66L474.1 202.60L474.9 202.58L475.7 202.64L476.5 202.52L477.3 202.50L478.1 202.57L478.9 202.74L479.7 202.58L480.5 202.89L481.3 202.63L482.1 202.15L482.9 202.53L483.7 202.85L484.5 202.60L485.3 202.53L486.1 202.47L486.9 202.80L487.7 202.75L488.5 202.70L489.3 202.66L490.1 202.82L490.9 202.72L491.7 202.42L492.5 202.72L493.3 202.63L494.1 202.58L494.9 202.71L495.7 202.60L496.5 202.16L497.3 202.83L498.1 202.76L498.9 202.58L499.7 202.54L500.5 202.63L501.3 202.41L502.1 202.65L502.9 202.57L503.7 202.55L504.5 202.46L505.3 202.50L506.1 202.77L506.9 202.80L507.7 202.68L508.5 202.59L509.3 202.47L510.1 202.71L510.9 202.84L511.7 202.36L512.5 202.78L513.3 202.28L514.1 202.55L514.9 202.66L515.7 202.40L516.5 202.37L517.3 202.63L518.1 202.73L518.9 202.53L519.7 202.80L520.5 202.48L521.3 202.86L522.1 202.62L522.9 202.64L523.7 202.69L524.5 202.65L525.3 202.88L526.1 202.93L526.9 202.68L527.7 202.58L528.5 202.42L529.3 202.49L530.1 202.60L530.9 202.58L531.7 202.59L532.5 202.60L533.3 202.67L534.1 202.40L534.9 202.45L535.7 202.77L536.5 202.73L537.3 202.52L538.1 202.79L538.9 202.50L539.7 202.56L540.5 202.33L541.3 202.73L542.1 202.60L542.9 202.76L543.7 202.71L544.5 202.61L545.3 202.62L546.1 202.78L546.9 202.58L547.7 202.58L548.5 202.61L549.3 202.72L550.1 202.74L550.9 202.89L551.7 202.59L552.5 202.79L553.3 202.51L554.1 202.70L554.9 202.62L555.7 202.87L556.5 202.70L557.3 202.54L558.1 202.69L558.9 202.66L559.7 202.56L560.5 202.56L561.3 202.47L562.1 203.02L562.9 202.63L563.7 202.75L564.5 202.43L565.3 202.44L566.1 202.58L566.9 202.59L567.7 202.73L568.5 202.46L569.3 202.69L570.1 202.83L570.9 202.47L571.7 202.74L572.5 202.46L573.3 202.66L574.1 202.66L574.9 202.87L575.7 202.50L576.5 202.63L577.3 202.76L578.1 202.43L578.9 202.61L579.7 202.48L580.5 202.50L581.3 202.71L582.1 202.71L582.9 202.99L583.7 202.81L584.5 202.80L585.3 202.58L586.1 202.56L586.9 202.63L587.7 202.27L588.5 202.86L589.3 202.51L590.1 202.45L590.9 202.54L591.7 202.74L592.5 202.79L593.3 202.55L594.1 202.67L594.9 202.60L595.7 202.46L596.5 202.63L597.3 202.61L598.1 202.37L598.9 202.77L599.7 202.37L600.5 202.64L601.3 202.45L602.1 202.48L602.9 202.50L603.7 202.71L604.5 202.42L605.3 202.57L606.1 202.84L606.9 202.50L607.7 202.60L608.5 202.70L609.3 202.52L610.1 202.67L610.9 202.50L611.7 202.71L612.5 202.61L613.3 202.46L614.1 202.81L614.9 202.59L615.7 202.56L616.5 202.46L617.3 202.53L618.1 202.59L618.9 202.63L619.7 202.77L620.5 202.40L621.3 202.55L622.1 202.78L622.9 202.63L623.7 202.66L624.5 202.84L625.3 202.65L626.1 202.67L626.9 202.60L627.7 202.87L628.5 202.76L629.3 202.49L630.1 202.68L630.9 202.43L631.7 202.76L632.5 202.70L633.3 202.58L634.1 202.54L634.9 202.33L635.7 202.72" stroke="#2f459b" stroke-width="1.7" fill="none" stroke-linejoin="round"/>
<path d="M422.07 202.90L422.52 196.35L422.52 175.20L423.20 174.20L423.88 175.20L423.88 196.35L424.32 202.90ZM450.60 202.90L451.05 189.53L451.05 144.20L451.80 143.20L452.55 144.20L452.55 189.53L453.00 202.90ZM455.73 202.90L456.18 188.60L456.18 40.60L457.00 39.60L457.82 40.60L457.82 188.60L458.27 202.90ZM463.83 202.90L463.98 198.20L463.98 183.60L464.60 182.60L465.23 183.60L465.23 198.20L465.38 202.90ZM569.15 202.90L569.60 188.60L569.60 113.20L570.40 112.20L571.20 113.20L571.20 188.60L571.65 202.90ZM627.83 202.90L627.98 200.14L627.98 192.40L628.60 191.40L629.23 192.40L629.23 200.14L629.38 202.90ZM562.75 202.90L562.90 201.68L562.90 199.40L563.40 198.40L563.90 199.40L563.90 201.68L564.05 202.90ZM594.35 202.90L594.50 201.98L594.50 200.64L595.00 199.80L595.50 200.64L595.50 201.98L595.65 202.90ZM571.35 202.90L571.50 201.72L571.50 199.60L572.00 198.60L572.50 199.60L572.50 201.72L572.65 202.90ZM452.30 202.90L452.45 201.04L452.45 196.50L453.00 195.50L453.55 196.50L453.55 201.04L453.70 202.90ZM457.90 202.90L458.05 200.60L458.05 194.50L458.60 193.50L459.15 194.50L459.15 200.60L459.30 202.90ZM459.15 202.90L459.30 201.24L459.30 197.40L459.90 196.40L460.50 197.40L460.50 201.24L460.65 202.90ZM465.15 202.90L465.30 201.81L465.30 200.00L465.80 199.00L466.30 200.00L466.30 201.81L466.45 202.90ZM486.85 202.90L487.00 201.90L487.00 200.36L487.50 199.40L488.00 200.36L488.00 201.90L488.15 202.90ZM418.15 202.90L418.30 201.94L418.30 200.50L418.90 199.60L419.50 200.50L419.50 201.94L419.65 202.90ZM423.95 202.90L424.10 201.92L424.10 200.43L424.60 199.50L425.10 200.43L425.10 201.92L425.25 202.90Z" fill="#2f459b" stroke="none"/>
<path d="M351.30 202.60V198.80M362.40 202.60V198.60M363.30 202.60V197.00M365.50 202.60V199.60M366.60 202.60V198.20M369.80 202.60V192.70M370.60 202.60V199.00M375.30 202.60V198.00M376.60 202.60V199.60M379.30 202.60V197.00M380.40 202.60V199.40M384.00 202.60V199.20M386.80 202.60V198.50M390.80 202.60V199.60M392.00 202.60V198.60M392.90 202.60V198.00M393.70 202.60V197.60M394.50 202.60V197.00M395.20 202.60V197.80M395.90 202.60V198.00M397.00 202.60V199.40M400.50 202.60V198.20M404.00 202.60V200.00M407.50 202.60V200.30M410.00 202.60V200.10M414.00 202.60V200.40M417.80 202.60V199.80M419.90 202.60V199.80M428.00 202.60V200.60M436.00 202.60V200.50M444.00 202.60V200.60M471.00 202.60V200.40M480.00 202.60V200.70M500.00 202.60V200.70M512.00 202.60V200.60M530.00 202.60V200.70M545.00 202.60V200.60M556.00 202.60V200.50M579.00 202.60V200.50M585.00 202.60V200.60M605.00 202.60V200.70M615.00 202.60V200.50" stroke="#2f459b" stroke-width="1.4" fill="none"/>
<rect x="348.80" y="206.10" width="288.20" height="2.4" fill="#231f20"/>
<path d="M385.69 207.30v3.40M457.07 207.30v3.40M528.45 207.30v3.40M599.83 207.30v3.40" stroke="#231f20" stroke-width="1.6" fill="none"/>
<path d="M350.00 207.30v4.40M421.38 207.30v4.40M492.76 207.30v4.40M564.14 207.30v4.40M635.52 207.30v4.40" stroke="#231f20" stroke-width="2.3" fill="none"/>
<text transform="translate(461.90 44.60) scale(1.05 1)" font-size="15.6" fill="#231f20">[PGP-Me]<tspan font-size="8.6" dy="-6.1" dx="0.2" stroke="none" fill="#3a3637">-</tspan></text>
<text transform="translate(398.20 120.60) scale(1.05 1)" font-size="15.6" fill="#231f20">[PGS]<tspan font-size="8.6" dy="-6.1" dx="0.2" stroke="none" fill="#3a3637">-</tspan></text>
<text transform="translate(403.40 162.40) scale(1.05 1)" font-size="15.6" fill="#231f20">[PG]<tspan font-size="8.6" dy="-6.1" dx="0.2" stroke="none" fill="#3a3637">-</tspan></text>
<text transform="translate(578.60 117.60) scale(1.05 1)" font-size="15.6" fill="#231f20">[S-TGD-1]<tspan font-size="8.6" dy="-6.1" dx="0.2" stroke="none" fill="#3a3637">-</tspan></text>
<path d="M426.00 128.60L440.60 139.50M434.30 139.53L440.60 139.50L438.84 133.45" fill="none" stroke="#231f20" stroke-width="1.25" stroke-linecap="round" stroke-linejoin="miter"/>
<path d="M349.3 395.00L350.1 395.04L350.9 394.97L351.7 394.89L352.5 394.95L353.3 394.88L354.1 395.01L354.9 395.16L355.7 394.94L356.5 394.93L357.3 395.06L358.1 395.04L358.9 395.01L359.7 394.89L360.5 395.00L361.3 395.08L362.1 394.84L362.9 394.95L363.7 394.77L364.5 394.85L365.3 394.78L366.1 394.97L366.9 394.85L367.7 395.03L368.5 395.02L369.3 394.98L370.1 394.70L370.9 394.94L371.7 394.99L372.5 395.01L373.3 394.82L374.1 394.94L374.9 394.88L375.7 394.90L376.5 395.13L377.3 394.90L378.1 395.00L378.9 395.11L379.7 394.93L380.5 394.99L381.3 395.01L382.1 395.01L382.9 394.85L383.7 395.01L384.5 395.16L385.3 394.81L386.1 395.10L386.9 395.01L387.7 394.92L388.5 395.24L389.3 395.09L390.1 394.86L390.9 395.01L391.7 395.07L392.5 394.98L393.3 395.08L394.1 394.99L394.9 395.08L395.7 395.17L396.5 394.92L397.3 395.02L398.1 394.94L398.9 395.02L399.7 394.86L400.5 394.93L401.3 394.98L402.1 395.11L402.9 395.14L403.7 394.84L404.5 394.90L405.3 395.08L406.1 394.76L406.9 394.94L407.7 394.99L408.5 395.15L409.3 395.08L410.1 394.96L410.9 394.96L411.7 394.97L412.5 395.18L413.3 394.95L414.1 394.96L414.9 395.04L415.7 394.99L416.5 394.98L417.3 394.87L418.1 395.00L418.9 394.95L419.7 395.14L420.5 395.08L421.3 395.00L422.1 395.08L422.9 394.96L423.7 395.13L424.5 395.00L425.3 395.07L426.1 394.85L426.9 395.04L427.7 394.80L428.5 394.76L429.3 394.96L430.1 394.89L430.9 395.02L431.7 395.27L432.5 394.90L433.3 394.93L434.1 395.02L434.9 395.06L435.7 394.98L436.5 394.98L437.3 395.08L438.1 395.06L438.9 394.88L439.7 394.99L440.5 395.00L441.3 394.87L442.1 395.03L442.9 394.90L443.7 395.12L444.5 395.02L445.3 395.01L446.1 394.93L446.9 394.99L447.7 394.76L448.5 394.86L449.3 395.04L450.1 394.74L450.9 395.10L451.7 394.79L452.5 395.09L453.3 394.90L454.1 395.09L454.9 395.02L455.7 394.82L456.5 395.15L457.3 395.17L458.1 394.99L458.9 394.97L459.7 394.98L460.5 394.88L461.3 395.13L462.1 394.93L462.9 394.99L463.7 394.90L464.5 394.92L465.3 394.85L466.1 395.15L466.9 394.98L467.7 395.12L468.5 395.00L469.3 394.92L470.1 394.96L470.9 394.93L471.7 395.00L472.5 394.95L473.3 394.96L474.1 394.83L474.9 394.90L475.7 395.20L476.5 394.92L477.3 394.87L478.1 395.04L478.9 395.17L479.7 394.83L480.5 394.97L481.3 394.92L482.1 394.79L482.9 395.09L483.7 395.00L484.5 395.01L485.3 394.91L486.1 395.05L486.9 394.94L487.7 394.98L488.5 394.87L489.3 394.85L490.1 395.16L490.9 394.94L491.7 395.04L492.5 395.00L493.3 394.95L494.1 394.94L494.9 395.08L495.7 394.96L496.5 394.98L497.3 395.00L498.1 395.14L498.9 395.08L499.7 395.05L500.5 394.93L501.3 394.83L502.1 395.11L502.9 395.12L503.7 394.98L504.5 395.07L505.3 395.09L506.1 395.10L506.9 395.11L507.7 394.95L508.5 395.18L509.3 394.85L510.1 395.10L510.9 395.06L511.7 395.10L512.5 395.23L513.3 395.18L514.1 394.86L514.9 394.80L515.7 395.10L516.5 394.88L517.3 395.00L518.1 395.10L518.9 394.80L519.7 394.75L520.5 395.03L521.3 395.01L522.1 394.97L522.9 395.00L523.7 394.90L524.5 394.82L525.3 394.98L526.1 394.88L526.9 394.80L527.7 395.06L528.5 394.99L529.3 395.05L530.1 394.88L530.9 394.92L531.7 394.88L532.5 394.89L533.3 395.02L534.1 394.91L534.9 395.04L535.7 395.04L536.5 395.24L537.3 394.83L538.1 395.11L538.9 394.99L539.7 395.00L540.5 394.83L541.3 394.94L542.1 395.09L542.9 394.99L543.7 395.01L544.5 394.97L545.3 395.14L546.1 395.00L546.9 394.74L547.7 394.92L548.5 394.76L549.3 394.61L550.1 394.94L550.9 395.16L551.7 395.01L552.5 394.86L553.3 394.89L554.1 395.14L554.9 395.02L555.7 395.01L556.5 394.99L557.3 395.00L558.1 395.10L558.9 395.07L559.7 395.03L560.5 394.87L561.3 395.06L562.1 394.92L562.9 395.13L563.7 394.85L564.5 394.98L565.3 395.00L566.1 394.84L566.9 395.21L567.7 395.18L568.5 394.94L569.3 395.09L570.1 395.05L570.9 394.69L571.7 395.03L572.5 394.99L573.3 395.01L574.1 394.87L574.9 394.97L575.7 394.98L576.5 395.14L577.3 395.04L578.1 395.00L578.9 395.18L579.7 394.93L580.5 394.95L581.3 394.78L582.1 395.19L582.9 395.12L583.7 395.11L584.5 395.08L585.3 395.01L586.1 395.03L586.9 394.97L587.7 394.98L588.5 395.01L589.3 395.18L590.1 395.07L590.9 394.99L591.7 394.93L592.5 394.92L593.3 395.19L594.1 395.06L594.9 395.01L595.7 394.96L596.5 394.87L597.3 394.99L598.1 395.10L598.9 394.95L599.7 394.97L600.5 394.97L601.3 395.01L602.1 394.81L602.9 394.97L603.7 394.90L604.5 395.11L605.3 394.91L606.1 395.07L606.9 395.18L607.7 394.96L608.5 394.93L609.3 395.02L610.1 395.00L610.9 394.88L611.7 395.06L612.5 395.24L613.3 394.97L614.1 394.98L614.9 394.87L615.7 395.04L616.5 394.85L617.3 394.87L618.1 395.15L618.9 394.89L619.7 395.13L620.5 395.18L621.3 395.03L622.1 395.07L622.9 395.23L623.7 394.98L624.5 394.93L625.3 394.84L626.1 395.01L626.9 395.18L627.7 395.12L628.5 394.89L629.3 394.90L630.1 394.94L630.9 395.04L631.7 394.98L632.5 395.03L633.3 395.04L634.1 394.96L634.9 395.00L635.7 395.02" stroke="#bf1e2e" stroke-width="1.6" fill="none" stroke-linejoin="round"/>
<path d="M349.25 395.30L349.40 392.36L349.40 384.00L350.20 383.00L351.00 384.00L351.00 392.36L351.15 395.30ZM352.75 395.30L352.90 393.42L352.90 388.80L353.70 387.80L354.50 388.80L354.50 393.42L354.65 395.30ZM354.65 395.30L354.80 391.22L354.80 378.80L355.60 377.80L356.40 378.80L356.40 391.22L356.55 395.30ZM356.25 395.30L356.40 391.26L356.40 379.00L357.20 378.00L358.00 379.00L358.00 391.26L358.15 395.30ZM358.05 395.30L358.50 386.11L358.50 355.60L359.30 354.60L360.10 355.60L360.10 386.11L360.55 395.30ZM359.85 395.30L360.00 391.08L360.00 378.20L360.80 377.20L361.60 378.20L361.60 391.08L361.75 395.30ZM361.75 395.30L362.20 381.00L362.20 308.30L363.00 307.30L363.80 308.30L363.80 381.00L364.25 395.30ZM365.25 395.30L365.40 389.81L365.40 372.40L366.20 371.40L367.00 372.40L367.00 389.81L367.15 395.30ZM366.95 395.30L367.40 389.48L367.40 370.90L368.20 369.90L369.00 370.90L369.00 389.48L369.45 395.30ZM368.85 395.30L369.30 381.00L369.30 300.20L370.10 299.20L370.90 300.20L370.90 381.00L371.35 395.30ZM371.15 395.30L371.30 390.82L371.30 377.00L372.10 376.00L372.90 377.00L372.90 390.82L373.05 395.30ZM373.35 395.30L373.50 392.80L373.50 386.00L374.30 385.00L375.10 386.00L375.10 392.80L375.25 395.30ZM376.85 395.30L377.00 391.08L377.00 378.20L377.80 377.20L378.60 378.20L378.60 391.08L378.75 395.30ZM381.75 395.30L382.20 381.00L382.20 295.70L383.00 294.70L383.80 295.70L383.80 381.00L384.25 395.30ZM383.65 395.30L383.80 393.64L383.80 389.80L384.60 388.80L385.40 389.80L385.40 393.64L385.55 395.30ZM385.25 395.30L385.70 381.00L385.70 226.20L386.50 225.20L387.30 226.20L387.30 381.00L387.75 395.30ZM386.65 395.30L387.10 381.00L387.10 331.90L387.90 330.90L388.70 331.90L388.70 381.00L389.15 395.30ZM390.35 395.30L390.50 393.86L390.50 390.80L391.30 389.80L392.10 390.80L392.10 393.86L392.25 395.30ZM391.65 395.30L392.10 381.00L392.10 327.40L392.90 326.40L393.70 327.40L393.70 381.00L394.15 395.30ZM397.15 395.30L397.30 393.22L397.30 387.90L398.10 386.90L398.90 387.90L398.90 393.22L399.05 395.30ZM399.05 395.30L399.20 392.58L399.20 385.00L400.00 384.00L400.80 385.00L400.80 392.58L400.95 395.30ZM400.65 395.30L400.80 391.30L400.80 379.20L401.60 378.20L402.40 379.20L402.40 391.30L402.55 395.30ZM404.25 395.30L404.40 392.45L404.40 384.40L405.20 383.40L406.00 384.40L406.00 392.45L406.15 395.30ZM410.05 395.30L410.20 392.14L410.20 383.00L411.00 382.00L411.80 383.00L411.80 392.14L411.95 395.30ZM411.65 395.30L411.80 393.00L411.80 386.90L412.60 385.90L413.40 386.90L413.40 393.00L413.55 395.30ZM417.65 395.30L417.80 392.67L417.80 385.40L418.60 384.40L419.40 385.40L419.40 392.67L419.55 395.30ZM421.15 395.30L421.30 390.03L421.30 373.40L422.10 372.40L422.90 373.40L422.90 390.03L423.05 395.30ZM421.85 395.30L422.30 387.78L422.30 363.20L423.10 362.20L423.90 363.20L423.90 387.78L424.35 395.30ZM424.05 395.30L424.20 391.72L424.20 381.10L425.00 380.10L425.80 381.10L425.80 391.72L425.95 395.30ZM426.05 395.30L426.20 393.86L426.20 390.80L427.00 389.80L427.80 390.80L427.80 393.86L427.95 395.30ZM427.45 395.30L427.90 388.25L427.90 365.30L428.70 364.30L429.50 365.30L429.50 388.25L429.95 395.30ZM433.75 395.30L433.90 393.42L433.90 388.80L434.70 387.80L435.50 388.80L435.50 393.42L435.65 395.30ZM439.15 395.30L439.30 392.80L439.30 386.00L440.10 385.00L440.90 386.00L440.90 392.80L441.05 395.30ZM443.05 395.30L443.20 389.81L443.20 372.40L444.00 371.40L444.80 372.40L444.80 389.81L444.95 395.30ZM447.25 395.30L447.40 394.34L447.40 392.90L448.20 392.00L449.00 392.90L449.00 394.34L449.15 395.30ZM448.95 395.30L449.10 394.05L449.10 391.70L449.90 390.70L450.70 391.70L450.70 394.05L450.85 395.30ZM455.65 395.30L456.10 381.00L456.10 273.80L456.90 272.80L457.70 273.80L457.70 381.00L458.15 395.30ZM459.95 395.30L460.10 393.00L460.10 386.90L460.90 385.90L461.70 386.90L461.70 393.00L461.85 395.30ZM463.65 395.30L463.80 390.31L463.80 374.70L464.60 373.70L465.40 374.70L465.40 390.31L465.55 395.30ZM467.75 395.30L467.90 394.27L467.90 392.69L468.70 391.70L469.50 392.69L469.50 394.27L469.65 395.30ZM469.85 395.30L470.00 394.05L470.00 391.70L470.80 390.70L471.60 391.70L471.60 394.05L471.75 395.30ZM587.05 395.30L587.20 393.97L587.20 391.30L588.00 390.30L588.80 391.30L588.80 393.97L588.95 395.30ZM622.35 395.30L622.50 393.37L622.50 388.60L623.30 387.60L624.10 388.60L624.10 393.37L624.25 395.30ZM492.55 395.30L492.70 394.47L492.70 393.32L493.50 392.60L494.30 393.32L494.30 394.47L494.45 395.30Z" fill="#bf1e2e" stroke="none"/>
<path d="M350.50 395.00V394.99M351.40 395.00V392.39M352.30 395.00V392.86M353.20 395.00V391.36M354.10 395.00V390.14M355.00 395.00V394.13M355.90 395.00V391.92M356.80 395.00V392.37M357.70 395.00V393.99M358.60 395.00V394.84M359.50 395.00V391.92M360.40 395.00V389.47M361.30 395.00V393.12M362.20 395.00V386.69M363.10 395.00V390.93M364.00 395.00V392.31M364.90 395.00V394.64M365.80 395.00V389.52M366.70 395.00V394.27M367.60 395.00V389.08M368.50 395.00V394.00M369.40 395.00V392.54M370.30 395.00V393.19M371.20 395.00V387.14M372.10 395.00V393.24M373.00 395.00V393.96M373.90 395.00V390.97M374.80 395.00V394.77M375.70 395.00V391.08M376.60 395.00V394.07M377.50 395.00V391.64M378.40 395.00V394.39M379.30 395.00V392.41M380.20 395.00V394.48M381.10 395.00V393.34M382.00 395.00V391.62M382.90 395.00V392.95M383.80 395.00V391.73M384.70 395.00V392.77M385.60 395.00V393.88M386.50 395.00V392.93M387.40 395.00V390.37M388.30 395.00V393.46M389.20 395.00V394.91M390.10 395.00V394.58M391.00 395.00V393.55M391.90 395.00V394.87M392.80 395.00V388.30M393.70 395.00V394.05M394.60 395.00V394.30M395.50 395.00V393.76M396.40 395.00V391.37M397.30 395.00V393.67M398.20 395.00V394.61M399.10 395.00V394.98M400.00 395.00V393.88M400.90 395.00V390.57M401.80 395.00V394.56M402.70 395.00V393.23M403.60 395.00V394.53M404.50 395.00V392.19M405.40 395.00V392.01M406.30 395.00V393.34M407.20 395.00V387.03M408.10 395.00V392.53M409.00 395.00V394.27M409.90 395.00V394.77M410.80 395.00V393.65M411.70 395.00V392.92M412.60 395.00V391.51M413.50 395.00V392.99M414.40 395.00V391.79M415.30 395.00V392.98M416.20 395.00V394.88M417.10 395.00V394.48M418.00 395.00V392.59M418.90 395.00V391.86M419.80 395.00V393.33M420.70 395.00V393.42M421.60 395.00V391.19M422.50 395.00V390.71M423.40 395.00V394.21M424.30 395.00V391.59M425.20 395.00V392.15M426.10 395.00V394.09M427.00 395.00V388.09M427.90 395.00V394.20M428.80 395.00V393.69M429.70 395.00V391.86M430.00 395.00V394.11M431.50 395.00V394.61M433.00 395.00V392.75M434.50 395.00V392.67M436.00 395.00V393.30M437.50 395.00V393.20M439.00 395.00V394.47M440.50 395.00V394.20M442.00 395.00V391.77M443.50 395.00V394.45M445.00 395.00V391.72M446.50 395.00V394.55M448.00 395.00V394.12M449.50 395.00V394.60M451.00 395.00V393.25M452.50 395.00V394.99M454.00 395.00V392.19M455.50 395.00V393.76M457.00 395.00V394.19M458.50 395.00V394.92M460.00 395.00V394.06M461.50 395.00V394.40M463.00 395.00V392.12M464.50 395.00V393.28M466.00 395.00V393.73M467.50 395.00V392.57M469.00 395.00V392.75M470.50 395.00V392.55M472.00 395.00V393.34M473.50 395.00V394.40" stroke="#bf1e2e" stroke-width="1.1" fill="none"/>
<rect x="348.80" y="399.30" width="288.20" height="2.4" fill="#231f20"/>
<path d="M385.69 400.50v2.10M457.07 400.50v2.10M528.45 400.50v2.10M599.83 400.50v2.10" stroke="#231f20" stroke-width="1.6" fill="none"/>
<path d="M350.00 400.50v2.80M421.38 400.50v2.80M492.76 400.50v2.80M564.14 400.50v2.80M635.52 400.50v2.80" stroke="#231f20" stroke-width="2.3" fill="none"/>
<text x="350.60" y="421.40" font-size="19" fill="#231f20" text-anchor="middle">600</text>
<text x="421.98" y="421.40" font-size="19" fill="#231f20" text-anchor="middle">800</text>
<text x="493.36" y="421.40" font-size="19" fill="#231f20" text-anchor="middle">1000</text>
<text x="564.74" y="421.40" font-size="19" fill="#231f20" text-anchor="middle">1200</text>
<text x="636.12" y="421.40" font-size="19" fill="#231f20" text-anchor="middle">1400</text>
<text x="391.10" y="441.90" font-size="19.1" font-weight="bold" fill="#231f20" text-anchor="start">Mass-to-charge ratio, m/z</text>
<text transform="translate(467.70 283.80) scale(1.05 1)" font-size="15.6" fill="#231f20">[PGP-Me]<tspan font-size="8.6" dy="-6.1" dx="0.2" stroke="none" fill="#3a3637">-</tspan></text>
<text transform="translate(404.90 318.70) scale(1.05 1)" font-size="15.6" fill="#231f20">[PG]<tspan font-size="8.6" dy="-6.1" dx="0.2" stroke="none" fill="#3a3637">-</tspan></text>
<path d="M419.60 327.20L421.70 352.60M417.51 347.90L421.70 352.60L425.06 347.27" fill="none" stroke="#231f20" stroke-width="1.25" stroke-linecap="round" stroke-linejoin="miter"/>
<text x="3.40" y="472.30" font-size="16.42" fill="#231f20" text-anchor="start">PGP-Me: phosphatidylglycerophosphate methyl ester</text>
<text x="3.40" y="491.80" font-size="16.42" fill="#231f20" text-anchor="start">PG: phosphatidylglycerol</text>
<text x="3.40" y="511.50" font-size="16.42" fill="#231f20" text-anchor="start">PGS: phosphatidylglycerosulfate</text>
<text x="417.60" y="472.20" font-size="16.42" fill="#231f20" text-anchor="start">S-TGD-1: glycolipid</text>
<text x="417.60" y="491.70" font-size="16.42" fill="#231f20" text-anchor="start">GlyC: archaeal glycocardiolipin</text>
<text x="417.60" y="511.30" font-size="16.42" fill="#231f20" text-anchor="start">BPG: archaeal cardiolipin</text>
</svg></body></html>
